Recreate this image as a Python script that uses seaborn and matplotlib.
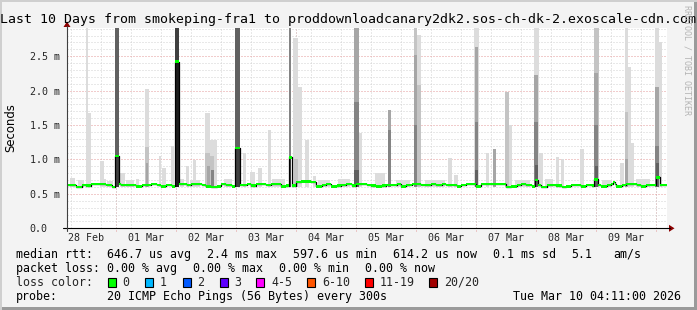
import numpy as np
import pandas as pd
import matplotlib
matplotlib.use("Agg")
import matplotlib.pyplot as plt
import matplotlib.dates as mdates
import seaborn as sns
from matplotlib.patches import Rectangle, Polygon
from matplotlib.lines import Line2D

# ---------------- data ----------------
start = pd.Timestamp("2026-02-28 04:11:00")
end = pd.Timestamp("2026-03-10 04:11:00")

# median rtt (ms), one reading every 2 hours from start
median_base = [
    0.63, 0.63, 0.60, 0.63, 0.62, 0.64, 0.64, 0.64, 0.63, 0.60,
    0.64, 0.63, 0.63, 0.63, 0.61, 0.63, 0.63, 0.64, 0.63, 0.61,
    0.63, 0.61, 0.64, 0.64, 0.63, 0.64, 0.64, 0.63, 0.61, 0.60,
    0.61, 0.64, 0.63, 0.61, 0.63, 0.63, 0.64, 0.62, 0.64, 0.64,
    0.63, 0.64, 0.64, 0.61, 0.62, 0.62, 0.675, 0.68, 0.68, 0.675,
    0.61, 0.63, 0.64, 0.61, 0.62, 0.63, 0.64, 0.62, 0.64, 0.64,
    0.63, 0.62, 0.61, 0.62, 0.63, 0.63, 0.64, 0.61, 0.63, 0.64,
    0.64, 0.63, 0.63, 0.64, 0.63, 0.64, 0.63, 0.63, 0.61, 0.63,
    0.64, 0.64, 0.61, 0.64, 0.64, 0.64, 0.64, 0.64, 0.60, 0.61,
    0.63, 0.64, 0.63, 0.61, 0.63, 0.60, 0.63, 0.63, 0.62, 0.60,
    0.61, 0.63, 0.63, 0.61, 0.63, 0.62, 0.63, 0.61, 0.63, 0.64,
    0.61, 0.63, 0.64, 0.64, 0.63, 0.61, 0.63, 0.63, 0.63, 0.63,
]
# short median excursions (hours from start)
spike_med_start = [19.6, 43.6, 67.6, 88.8, 187.4, 211.0, 218.6, 235.8]
spike_med_end = [21.2, 45.0, 69.4, 90.0, 188.6, 212.6, 219.4, 237.4]
spike_med_value = [1.05, 2.42, 1.17, 1.03, 0.70, 0.71, 0.67, 0.74]

# smoke (ping spread) bars: start hour, width hours, top (ms), density level
smoke_start_h = [7.8, 8.6, 13.6, 15.0, 19.6, 19.6, 21.4, 27.8, 31.4, 31.4,
                 31.8, 37.0, 38.2, 41.8, 43.6, 43.6, 45.4, 47.8, 50.6, 55.4,
                 55.4, 56.2, 57.4, 57.4, 57.8, 67.6, 67.6, 70.6, 73.4, 76.6,
                 80.6, 82.2, 88.8, 88.8, 90.6, 92.6, 91.0, 95.4, 98.6, 115.2,
                 115.2, 115.2, 117.0, 123.4, 128.6, 128.6, 139.0, 139.0, 139.0, 140.2,
                 140.2, 152.6, 155.0, 163.0, 163.4, 163.4, 163.4, 167.8, 170.6, 175.4,
                 176.6, 187.0, 187.0, 187.0, 187.4, 189.0, 195.8, 197.8, 205.4, 211.0,
                 211.0, 211.0, 211.4, 221.4, 223.4, 223.4, 223.4, 224.6, 225.8, 235.4,
                 237.0, 235.4, 235.4, 235.8,
                 1.4, 4.6, 16.2, 23.8, 49.4, 63.0, 100.6, 108.6, 131.8, 143.4,
                 179.4, 191.4, 214.2, 227.8]
smoke_width_h = [0.8, 1.2, 1.4, 0.8, 1.6, 1.6, 2.0, 1.2, 1.6, 1.6,
                 0.8, 0.8, 1.6, 1.2, 1.4, 1.4, 1.6, 1.2, 1.2, 2.0,
                 2.0, 1.2, 2.8, 1.6, 1.2, 1.8, 1.8, 1.2, 2.0, 1.6,
                 1.2, 5.2, 1.2, 1.2, 2.0, 1.6, 1.6, 1.6, 1.2, 1.8,
                 1.8, 1.8, 1.2, 4.0, 1.2, 1.2, 1.2, 1.2, 1.2, 1.6,
                 1.6, 1.6, 1.6, 2.0, 1.2, 1.2, 1.2, 1.2, 1.2, 1.6,
                 1.6, 2.0, 1.6, 1.6, 1.2, 1.6, 1.2, 1.2, 1.6, 2.0,
                 1.6, 1.6, 1.2, 1.6, 1.2, 1.2, 1.2, 1.2, 1.2, 1.6,
                 1.2, 1.6, 1.6, 1.2,
                 2.0, 2.4, 2.4, 3.2, 4.0, 3.2, 4.8, 4.8, 5.6, 8.0,
                 6.0, 3.2, 4.0, 5.6]
smoke_top = [2.91, 1.68, 0.98, 0.72, 2.91, 1.06, 0.80, 0.72, 2.03, 1.18,
             0.95, 1.05, 0.87, 1.19, 2.91, 2.42, 0.72, 0.90, 0.99, 1.68,
             1.10, 0.90, 1.28, 1.05, 0.85, 2.91, 1.17, 1.09, 0.82, 0.88,
             1.43, 0.72, 2.91, 1.03, 2.77, 2.06, 1.00, 1.28, 0.76, 2.91,
             1.84, 0.85, 1.38, 0.80, 1.72, 1.43, 2.91, 2.52, 1.50, 2.81,
             2.08, 1.02, 0.78, 2.91, 2.64, 1.54, 0.85, 1.10, 1.15, 1.98,
             1.50, 2.91, 2.23, 1.54, 0.92, 1.10, 1.03, 1.00, 1.15, 2.91,
             2.26, 1.50, 0.90, 0.95, 2.91, 1.69, 1.00, 2.35, 1.24, 2.91,
             2.71, 2.05, 1.20, 0.95,
             0.73, 0.70, 0.69, 0.70, 0.70, 0.72, 0.70, 0.72, 0.70, 0.70,
             0.70, 0.72, 0.70, 0.72]
smoke_level = [1, 1, 1, 1, 5, 6, 1, 1, 1, 2,
               3, 1, 1, 1, 6, 7, 1, 1, 1, 1,
               2, 3, 1, 2, 4, 5, 6, 1, 1, 1,
               1, 1, 4, 6, 1, 1, 2, 1, 1, 3,
               4, 5, 1, 1, 3, 4, 2, 3, 4, 1,
               2, 1, 1, 1, 3, 4, 5, 1, 3, 2,
               1, 1, 3, 4, 5, 1, 1, 1, 1, 2,
               3, 4, 5, 1, 1, 2, 3, 1, 1, 1,
               1, 3, 4, 5,
               1, 1, 1, 1, 1, 1, 1, 1, 1, 1,
               1, 1, 1, 1]

y_ticks = [0.0, 0.5, 1.0, 1.5, 2.0, 2.5]
y_tick_labels = ["0.0", "0.5 m", "1.0 m", "1.5 m", "2.0 m", "2.5 m"]
x_tick_labels = ["28 Feb", "01 Mar", "02 Mar", "03 Mar", "04 Mar",
                 "05 Mar", "06 Mar", "07 Mar", "08 Mar", "09 Mar"]

title = "Last 10 Days from smokeping-fra1 to proddownloadcanary2dk2.sos-ch-dk-2.exoscale-cdn.com"
loss_labels = ["0", "1", "2", "3", "4-5", "6-10", "11-19", "20/20"]
loss_colors = ["#00ff00", "#00b8ff", "#0059ff", "#5e00ff", "#ff00ff", "#ff5500", "#ff0000", "#a10000"]

# ---------------- helpers ----------------
W, H = 697, 310
MONO = "DejaVu Sans Mono"
level_color = {1: "#dcdcdc", 2: "#c4c4c4", 3: "#a6a6a6", 4: "#848484",
               5: "#616161", 6: "#404040", 7: "#1e1e1e"}


def fx(x):
    return x / W


def fy(y):
    return 1 - y / H


def tnum(hours):
    return mdates.date2num(start + pd.to_timedelta(np.asarray(hours, dtype=float), unit="h"))


sns.set_style("white")
plt.rcParams["font.family"] = ["DejaVu Sans"]

fig = plt.figure(figsize=(W / 100, H / 100), dpi=100, facecolor="#f3f3f3")
ax = fig.add_axes([fx(66.5), 1 - 228.3 / H, 600 / W, 200.3 / H])
ax.set_facecolor("white")

x0 = mdates.date2num(start)
x1 = mdates.date2num(end)
ax.set_xlim(x0, x1)
ax.set_ylim(0, 2.91)

# grids
ax.yaxis.set_minor_locator(matplotlib.ticker.MultipleLocator(0.1))
ax.xaxis.set_minor_locator(mdates.HourLocator(byhour=[0, 6, 12, 18]))
ax.grid(which="minor", color="#d2d2d2", linestyle=(0, (1, 2)), linewidth=0.72)
ax.set_yticks(y_ticks)
ax.set_yticklabels(y_tick_labels)
ax.yaxis.grid(True, which="major", color="#e59a9a", linestyle=(0, (1, 2)), linewidth=0.72)
ax.xaxis.grid(False, which="major")
for d in pd.date_range("2026-03-01", "2026-03-10", freq="D"):
    ax.axvline(mdates.date2num(d), ymin=-0.014, ymax=1, color="#e59a9a",
               linestyle=(0, (1, 2)), linewidth=0.72, clip_on=False, zorder=0.5)

noons = pd.date_range("2026-02-28 12:00", periods=10, freq="D")
ax.set_xticks(mdates.date2num(noons))
ax.set_xticklabels(x_tick_labels)

ax.tick_params(axis="x", which="both", length=0, pad=3.2, labelsize=7.2)
ax.tick_params(axis="y", which="minor", length=0)
ax.tick_params(axis="y", which="major", length=2.2, width=0.72, color="#c06060",
               pad=24.4, labelsize=7.2)
for lab in ax.get_xticklabels() + ax.get_yticklabels():
    lab.set_fontfamily(MONO)
for lab in ax.get_yticklabels():
    lab.set_horizontalalignment("left")
for s in ax.spines.values():
    s.set_visible(False)

# smoke bars (light first, darker on top)
order = np.argsort(np.array(smoke_level), kind="stable")
sx = tnum(smoke_start_h)
sw = np.array(smoke_width_h) / 24.0
st = np.array(smoke_top)
for i in order:
    ax.bar(sx[i], st[i] - 0.6, bottom=0.6, width=sw[i], align="edge",
           color=level_color[smoke_level[i]], linewidth=0, zorder=2)

# median series
pts = {2.0 * i: v for i, v in enumerate(median_base)}
for h0, h1, v in zip(spike_med_start, spike_med_end, spike_med_value):
    resume = median_base[int(h1 // 2)]
    for k in [k for k in pts if h0 <= k < h1]:
        del pts[k]
    pts[h0] = v
    pts[h1] = resume
hrs = sorted(pts)
vals = [pts[h] for h in hrs]
hrs.append(240.0)
vals.append(vals[-1])
med_df = pd.DataFrame({"t": tnum(hrs), "median": vals})

sns.lineplot(data=med_df, x="t", y="median", drawstyle="steps-post", color="black",
             linewidth=0.9, estimator=None, sort=False, ax=ax, legend=False, zorder=3)
ax.fill_between(med_df["t"], med_df["median"] - 0.018, med_df["median"] + 0.018,
                step="post", color="#00ff00", linewidth=0, zorder=4)
ax.set_xlabel("")
ax.set_ylabel("")
ax.set_xlim(x0, x1)
ax.set_ylim(0, 2.91)

# axis lines with arrows
fig.add_artist(Line2D([fx(63), fx(670)], [fy(228.3), fy(228.3)], color="black", lw=0.8))
fig.add_artist(Line2D([fx(67), fx(67)], [fy(231), fy(26)], color="#404040", lw=0.8))
fig.add_artist(Polygon([[fx(669), fy(224.8)], [fx(674.5), fy(228.3)], [fx(669), fy(231.8)]],
                       closed=True, color="#8b0000", lw=0))
fig.add_artist(Polygon([[fx(63.5), fy(27)], [fx(67), fy(21.5)], [fx(70.5), fy(27)]],
                       closed=True, color="#8b0000", lw=0))

# frame (3D border)
fig.add_artist(Rectangle((0, 0), 1, fy(307), transform=fig.transFigure, color="#9a9a9a", lw=0))
fig.add_artist(Rectangle((fx(694), 0), fx(3), 1, transform=fig.transFigure, color="#9a9a9a", lw=0))
fig.add_artist(Rectangle((0, fy(2)), 1, 2 / H, transform=fig.transFigure, color="#cfcfcf", lw=0))
fig.add_artist(Rectangle((0, 0), fx(2), 1, transform=fig.transFigure, color="#cfcfcf", lw=0))

# texts
fig.text(0.0, fy(19.3), title, ha="left", va="center", fontsize=9.54, family=MONO, color="black")
fig.text(fx(11), fy(128), "Seconds", rotation=90, ha="center", va="center", fontsize=8.35,
         family="DejaVu Sans", color="black")
fig.text(fx(687), fy(5), "RRDTOOL / TOBI OETIKER", rotation=270, ha="center", va="top",
         fontsize=6.0, family=MONO, color="#b4b4b4")

LS = 8.35
row_y = [254.3, 268.3, 282.3, 296.3]
row1 = [(16, "median rtt:"), (107.3, "646.7 us avg"), (207, "2.4 ms max"),
        (293.3, "597.6 us min"), (393.3, "614.2 us now"), (493.3, "0.1 ms sd"),
        (571, "5.1"), (613.3, "am/s")]
row2 = [(16, "packet loss:"), (107.3, "0.00 % avg"), (193.3, "0.00 % max"),
        (279.3, "0.00 % min"), (365.3, "0.00 % now")]
row4 = [(16, "probe:"), (107.3, "20 ICMP Echo Pings (56 Bytes) every 300s"),
        (513.3, "Tue Mar 10 04:11:00 2026")]
for yy, row in zip([row_y[0], row_y[1], row_y[3]], [row1, row2, row4]):
    for xx, s in row:
        fig.text(fx(xx), fy(yy), s, ha="left", va="center", fontsize=LS, family=MONO, color="black")

fig.text(fx(16), fy(row_y[2]), "loss color:", ha="left", va="center", fontsize=LS, family=MONO)
label_x = [122.7, 160, 197.3, 234.3, 271, 322, 379.5, 444]
for lx, lab, col in zip(label_x, loss_labels, loss_colors):
    bx = lx - 14.7
    fig.add_artist(Rectangle((fx(bx), fy(row_y[2] + 4.5)), fx(8), 9 / H,
                             transform=fig.transFigure, facecolor=col, edgecolor="black", lw=0.8))
    fig.text(fx(lx), fy(row_y[2]), lab, ha="left", va="center", fontsize=LS, family=MONO)

fig.savefig("out.png", dpi=100, facecolor=fig.get_facecolor())
